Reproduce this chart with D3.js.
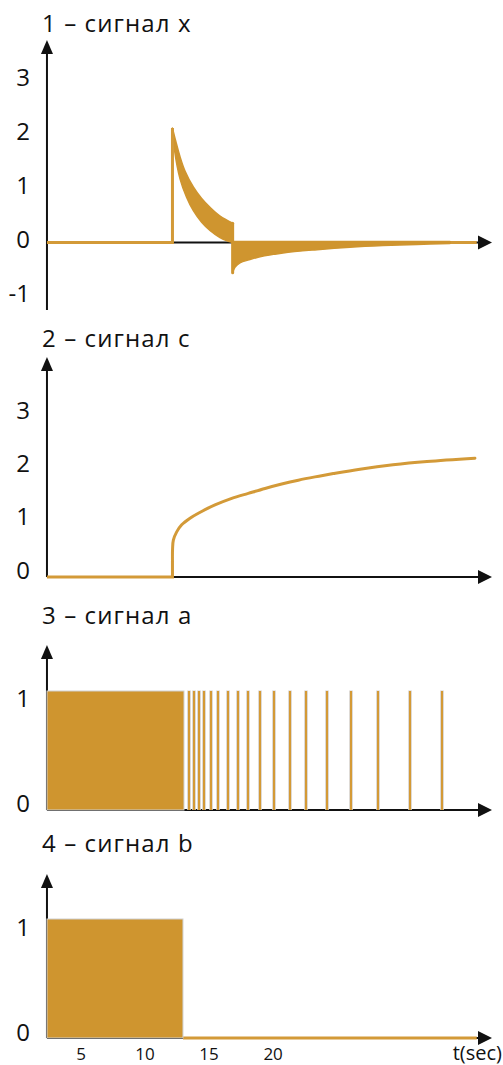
<!DOCTYPE html>
<html><head><meta charset="utf-8">
<script src="https://cdn.jsdelivr.net/npm/d3@7"></script>
<style>body{margin:0;background:#fff}svg{display:block}text{font-family:"Open Sans",sans-serif;fill:#111}</style>
</head><body><div id="c"></div>
<script>
// ---------- data ----------
const titles = ["1 – сигнал x", "2 – сигнал с", "3 – сигнал а", "4 – сигнал b"];
const xTicks = [5, 10, 15, 20];
const xLabel = "t(sec)";
const yTicks1 = [-1, 0, 1, 2, 3];
const yTicks2 = [0, 1, 2, 3];
const yTicks3 = [0, 1];
const yTicks4 = [0, 1];
const tStart = 2.34, tEnd = 36;
// signal x
const xStepT = 12.14, xPeak = 2.08, xDropT = 16.84, xDropTop = 0.35, xDropLow = -0.55;
const xUpper = [[12.14,2.08],[12.4,1.84],[12.73,1.56],[13.12,1.30],[13.77,1.01],[14.42,0.80],[15.07,0.64],[15.86,0.48],[16.84,0.35]];
const xLower = [[12.16,2.02],[12.3,1.68],[12.73,1.16],[13.25,0.82],[13.77,0.58],[14.42,0.37],[15.07,0.22],[15.85,0.09],[16.5,0.02],[16.84,0.0]];
const xNegUpper = [[16.84,0.02],[25,0.02],[33.81,0.02]];
const xNegLower = [[16.84,-0.55],[17.02,-0.45],[17.41,-0.37],[18.20,-0.31],[18.98,-0.26],[20.77,-0.19],[23.43,-0.13],[26.00,-0.085],[28.58,-0.055],[31.24,-0.035],[33.81,-0.02]];
const xTailEnd = 35.9;
// signal c
const cStepT = 12.14;
const cCurve = [[12.14,0.30],[12.15,0.52],[12.21,0.67],[12.47,0.82],[12.86,0.95],[13.51,1.07],[14.16,1.16],[15.46,1.31],[16.77,1.43],[18.06,1.52],[19.37,1.61],[20.67,1.69],[21.97,1.76],[23.27,1.82],[24.70,1.88],[26.78,1.96],[29.36,2.04],[32.02,2.10],[35.76,2.16]];
// signal a
const aBlockEnd = 13.04;
const aPulses = [13.38,13.77,14.16,14.55,15.07,15.62,16.42,17.18,17.96,18.90,19.97,21.24,22.49,24.13,26.00,28.14,30.59,33.13];
// signal b
const bBlockEnd = 12.96;

// ---------- drawing ----------
const W = 503, H = 1065;
const ORANGE = "#CF952F", LINE = "#D39A38", EDGE = "#cfcfcf";
const svg = d3.select("#c").append("svg").attr("width", W).attr("height", H);
const x = d3.scaleLinear().domain([0, 36]).range([17, 478]);

const panels = [
  {y: d3.scaleLinear().domain([-1, 3]).range([297.5, 77.5]), lab: d3.scaleLinear().domain([-1, 3]).range([293, 77]), ticks: yTicks1, titleY: 32, top: 40, bottom: 310, zero: 242.5},
  {y: d3.scaleLinear().domain([0, 3]).range([577, 412]), lab: d3.scaleLinear().domain([0, 3]).range([570, 410]), ticks: yTicks2, titleY: 347, top: 357, bottom: 577, zero: 577},
  {y: d3.scaleLinear().domain([0, 1]).range([810, 691]), lab: d3.scaleLinear().domain([0, 1]).range([803, 698]), ticks: yTicks3, titleY: 624, top: 645, bottom: 810, zero: 810},
  {y: d3.scaleLinear().domain([0, 1]).range([1038, 919]), lab: d3.scaleLinear().domain([0, 1]).range([1032, 927]), ticks: yTicks4, titleY: 852, top: 874, bottom: 1038, zero: 1038}
];

panels.forEach((p, i) => {
  const g = svg.append("g");
  p.g = g;
  g.append("text").attr("x", 42).attr("y", p.titleY).attr("font-size", 24).attr("letter-spacing", 1.1).text(titles[i]);
  g.selectAll("text.yt").data(p.ticks).join("text").attr("class", "yt")
    .attr("x", 30).attr("y", d => p.lab(d) + 8.5).attr("text-anchor", "end")
    .attr("font-size", 24).text(d => d);
  const x0 = x(tStart);
  g.append("line").attr("x1", x0).attr("x2", x0).attr("y1", p.top + 12).attr("y2", p.bottom)
    .attr("stroke", "#111").attr("stroke-width", 2);
  g.append("path").attr("d", `M${x0},${p.top}L${x0 - 6},${p.top + 14}L${x0 + 6},${p.top + 14}Z`).attr("fill", "#111");
  g.append("line").attr("x1", x0).attr("x2", x(tEnd) + 2).attr("y1", p.zero).attr("y2", p.zero)
    .attr("stroke", "#111").attr("stroke-width", 2.2);
  g.append("path").attr("d", `M${x(tEnd)},${p.zero - 7}L${x(tEnd) + 14},${p.zero}L${x(tEnd)},${p.zero + 7}Z`).attr("fill", "#111");
});

function bandPath(upper, lower, y) {
  const l = d3.line().x(d => x(d[0])).y(d => y(d[1])).curve(d3.curveCatmullRom);
  return l(upper) + l(lower.slice().reverse()).replace(/^M/, "L") + "Z";
}

// panel 1: signal x
{
  const p = panels[0], g = p.g, y = p.y;
  const l = d3.line().x(d => x(d[0])).y(d => y(d[1]));
  g.append("path").attr("d", l([[xDropT, 0], [xTailEnd, 0]])).attr("fill", "none").attr("stroke", LINE).attr("stroke-width", 3);
  g.append("path").attr("d", bandPath(xUpper, xLower, y)).attr("fill", ORANGE).attr("stroke", ORANGE).attr("stroke-width", 1.5).attr("stroke-linejoin", "round");
  g.append("path").attr("d", bandPath(xNegUpper, xNegLower, y)).attr("fill", ORANGE).attr("stroke", ORANGE).attr("stroke-width", 1.5).attr("stroke-linejoin", "round");
  g.append("path").attr("d", l([[tStart, 0], [xStepT, 0], [xStepT, xPeak]])).attr("fill", "none").attr("stroke", LINE).attr("stroke-width", 3);
  g.append("path").attr("d", l([[xDropT, xDropTop], [xDropT, xDropLow]])).attr("fill", "none").attr("stroke", ORANGE).attr("stroke-width", 3).attr("stroke-linecap", "round");
}
// panel 2: signal c
{
  const p = panels[1], g = p.g, y = p.y;
  const l = d3.line().x(d => x(d[0])).y(d => y(d[1]));
  g.append("path").attr("d", l([[tStart, 0], [cStepT, 0], cCurve[0]])).attr("fill", "none").attr("stroke", LINE).attr("stroke-width", 3);
  g.append("path").attr("d", l.curve(d3.curveCatmullRom)(cCurve)).attr("fill", "none").attr("stroke", LINE).attr("stroke-width", 3).attr("stroke-linecap", "round");
}
// panel 3: signal a
{
  const p = panels[2], g = p.g, y = p.y;
  g.append("rect").attr("x", x(tStart)).attr("y", y(1)).attr("width", x(aBlockEnd) - x(tStart)).attr("height", y(0) - y(1))
    .attr("fill", ORANGE).attr("stroke", EDGE).attr("stroke-width", 1);
  const pg = g.selectAll("g.pulse").data(aPulses).join("g").attr("class", "pulse");
  pg.append("rect").attr("x", d => Math.round(x(d)) - 0.8).attr("y", y(1) - 0.5).attr("width", 3.6).attr("height", y(0) - y(1) + 0.5)
    .attr("fill", "#d6d2cb");
  pg.append("rect").attr("x", d => Math.round(x(d))).attr("y", y(1)).attr("width", 2).attr("height", y(0) - y(1))
    .attr("fill", "#D49A36");
}
// panel 4: signal b
{
  const p = panels[3], g = p.g, y = p.y;
  g.append("path").attr("d", d3.line().x(d => x(d[0])).y(d => y(d[1]))([[bBlockEnd, 0], [xTailEnd, 0]]))
    .attr("stroke", LINE).attr("stroke-width", 3).attr("fill", "none");
  g.append("rect").attr("x", x(tStart)).attr("y", y(1)).attr("width", x(bBlockEnd) - x(tStart)).attr("height", y(0) - y(1))
    .attr("fill", ORANGE).attr("stroke", EDGE).attr("stroke-width", 1);
  g.selectAll("text.xt").data(xTicks).join("text").attr("class", "xt")
    .attr("x", d => x(d)).attr("y", 1060).attr("text-anchor", "middle").attr("font-size", 17).text(d => d);
  g.append("text").attr("x", 502).attr("y", 1060).attr("text-anchor", "end").attr("font-size", 20).text(xLabel);
}
</script></body></html>
